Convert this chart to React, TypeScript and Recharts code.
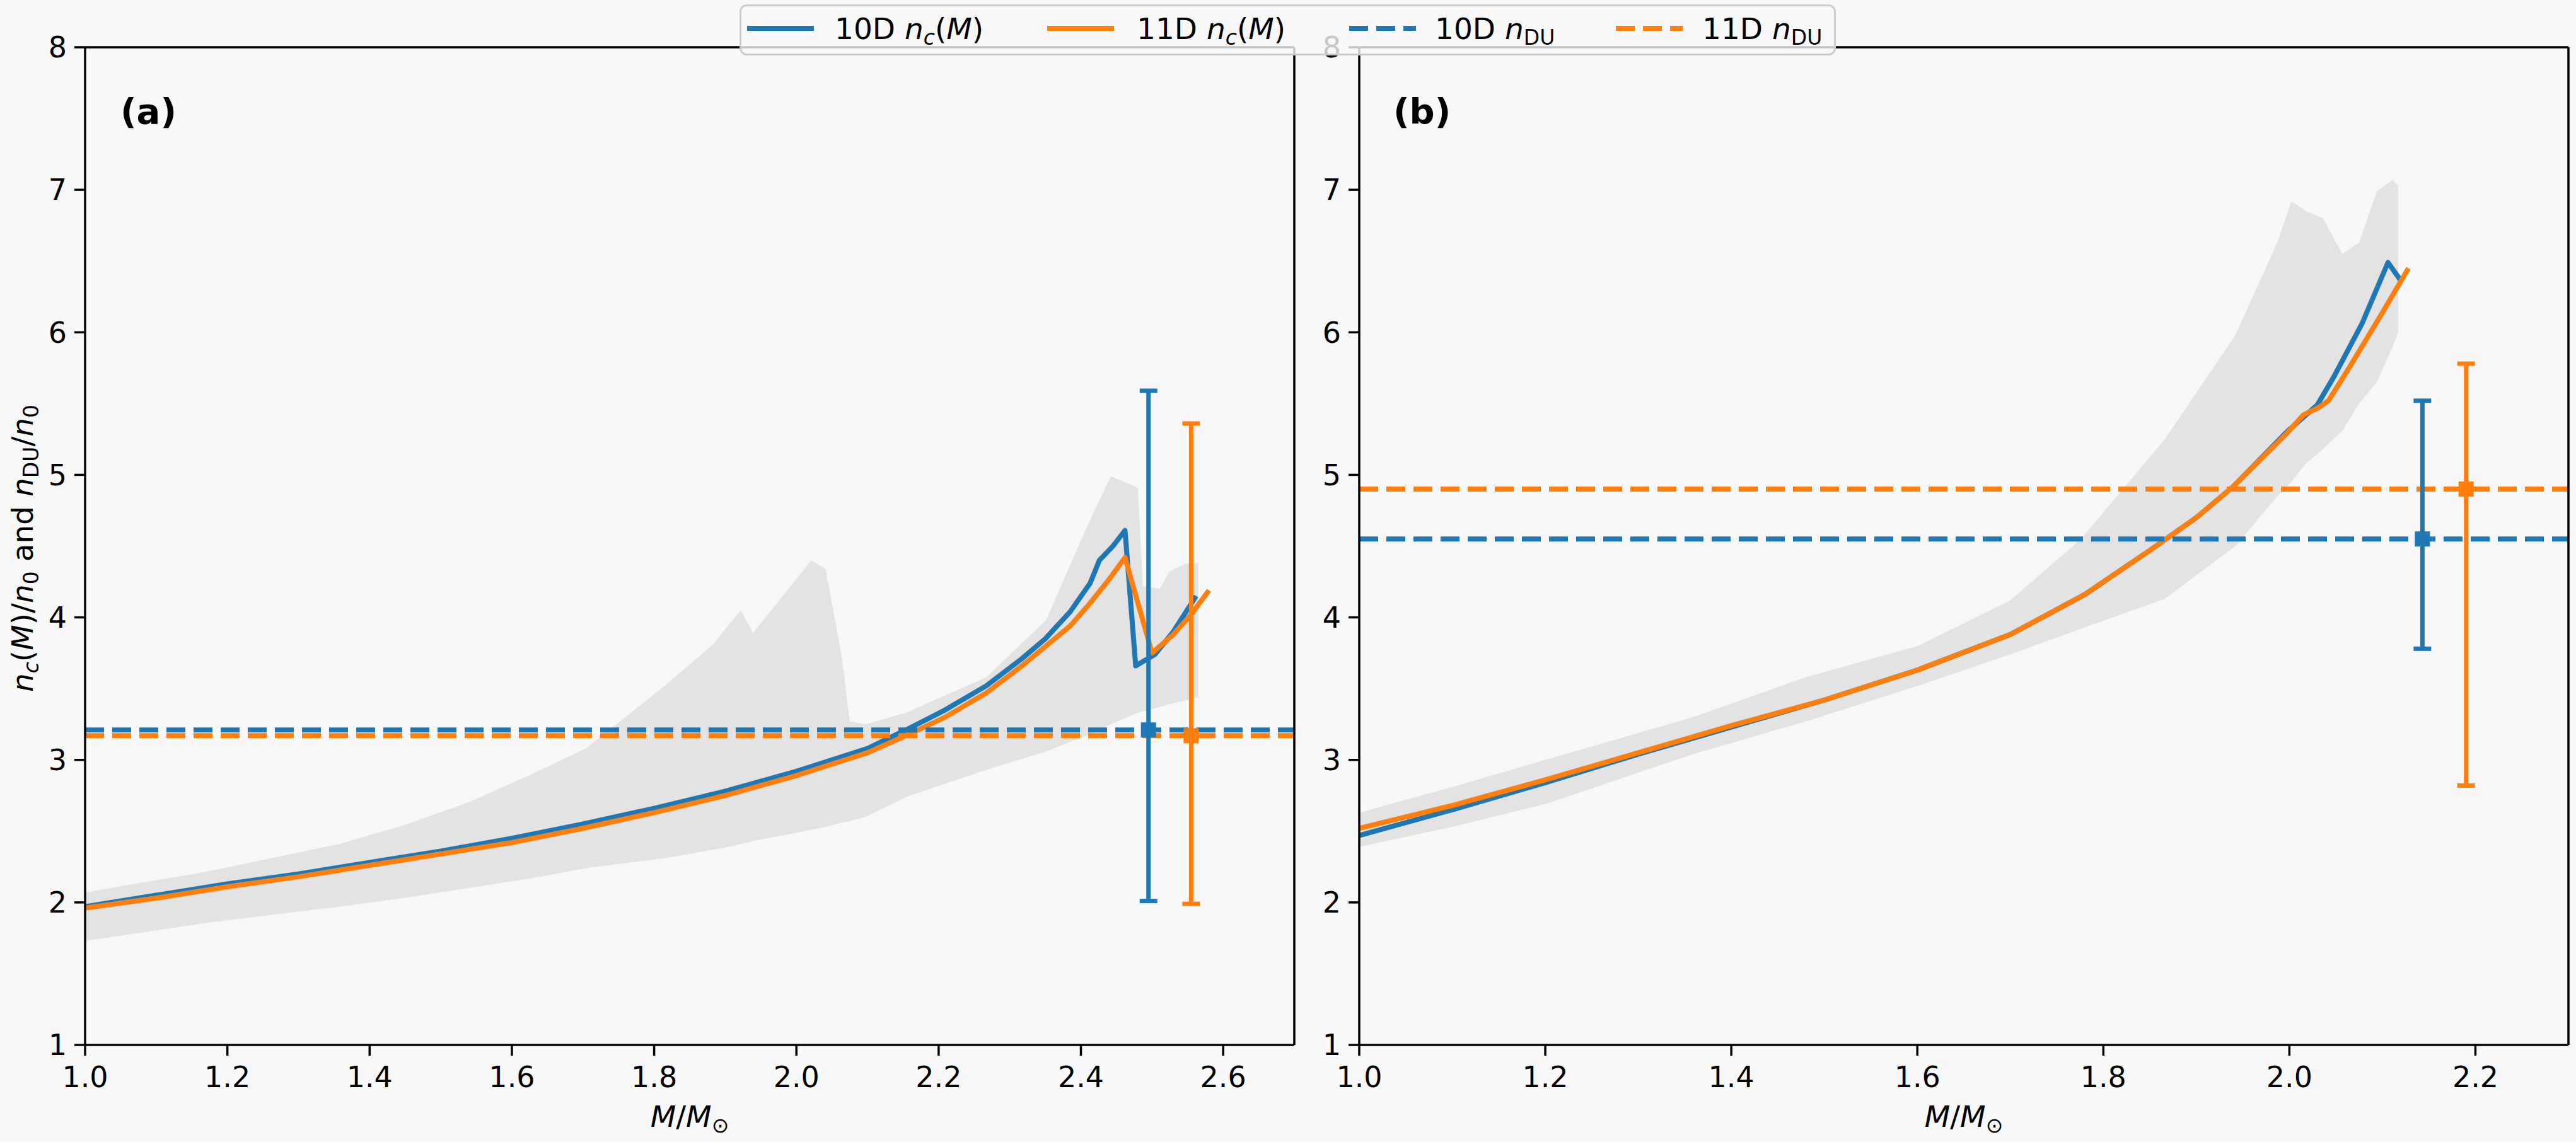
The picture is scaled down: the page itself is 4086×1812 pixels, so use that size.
import React from 'react';
import {
  ComposedChart, Area, Line, Scatter, ErrorBar, XAxis, YAxis, ReferenceLine,
} from 'recharts';

const BLUE = '#1f77b4';
const ORANGE = '#ff7f0e';
const BAND_GREY = '#e3e3e3';
const PAGE_BG = '#f8f8f8';
const FONT = '"DejaVu Sans", Verdana, sans-serif';

// ---- panel (a) ----
const massA10D = [1.0, 1.1, 1.2, 1.3, 1.4, 1.5, 1.6, 1.7, 1.8, 1.9, 2.0, 2.1, 2.154, 2.209, 2.267, 2.317, 2.35, 2.385, 2.413, 2.426, 2.445, 2.462, 2.477, 2.504, 2.53, 2.562];
const ncA10D = [1.97, 2.05, 2.13, 2.2, 2.28, 2.36, 2.45, 2.55, 2.66, 2.78, 2.92, 3.08, 3.21, 3.35, 3.52, 3.71, 3.85, 4.04, 4.24, 4.4, 4.5, 4.61, 3.66, 3.74, 3.9, 4.15];
const massA11D = [1.0, 1.1, 1.2, 1.3, 1.4, 1.5, 1.6, 1.7, 1.8, 1.9, 2.0, 2.1, 2.154, 2.209, 2.267, 2.317, 2.385, 2.413, 2.44, 2.462, 2.5, 2.53, 2.555, 2.58];
const ncA11D = [1.96, 2.03, 2.11, 2.18, 2.26, 2.34, 2.42, 2.52, 2.63, 2.75, 2.89, 3.05, 3.17, 3.3, 3.47, 3.66, 3.94, 4.1, 4.27, 4.42, 3.75, 3.88, 4.02, 4.19];
const bandMassA = [1.0, 1.176, 1.357, 1.447, 1.538, 1.628, 1.704, 1.815, 1.883, 1.905, 1.922, 1.939, 2.021, 2.041, 2.064, 2.075, 2.097, 2.154, 2.267, 2.351, 2.408, 2.442, 2.48, 2.487, 2.511, 2.524, 2.548, 2.565];
const bandLowA = [1.73, 1.86, 1.97, 2.03, 2.1, 2.17, 2.24, 2.31, 2.37, 2.39, 2.41, 2.43, 2.51, 2.53, 2.56, 2.57, 2.6, 2.74, 2.93, 3.06, 3.17, 3.25, 3.33, 3.34, 3.37, 3.39, 3.42, 3.44];
const bandHighA = [2.07, 2.22, 2.41, 2.54, 2.7, 2.9, 3.08, 3.52, 3.81, 3.95, 4.05, 3.89, 4.4, 4.34, 3.72, 3.27, 3.25, 3.33, 3.58, 3.98, 4.63, 4.99, 4.91, 4.22, 4.2, 4.32, 4.38, 4.38];
const nduMassA = [2.495, 2.555];
const nduA = [3.21, 3.17];
const nduLowA = [2.01, 1.99];
const nduHighA = [5.59, 5.36];
const ticksA = [1.0, 1.2, 1.4, 1.6, 1.8, 2.0, 2.2, 2.4, 2.6];

// ---- panel (b) ----
const massB10D = [1.0, 1.1, 1.2, 1.3, 1.4, 1.5, 1.6, 1.7, 1.78, 1.85, 1.9, 1.94, 1.997, 2.03, 2.048, 2.078, 2.106, 2.119];
const ncB10D = [2.47, 2.65, 2.84, 3.04, 3.23, 3.42, 3.63, 3.88, 4.16, 4.47, 4.7, 4.92, 5.3, 5.49, 5.69, 6.06, 6.49, 6.37];
const massB11D = [1.0, 1.1, 1.2, 1.3, 1.4, 1.5, 1.6, 1.7, 1.78, 1.85, 1.9, 1.94, 1.997, 2.015, 2.031, 2.042, 2.066, 2.102, 2.128];
const ncB11D = [2.52, 2.68, 2.86, 3.05, 3.24, 3.42, 3.63, 3.88, 4.16, 4.47, 4.7, 4.92, 5.29, 5.42, 5.47, 5.52, 5.77, 6.16, 6.45];
const bandMassB = [1.0, 1.1, 1.2, 1.359, 1.48, 1.601, 1.7, 1.776, 1.866, 1.942, 1.987, 2.002, 2.018, 2.036, 2.057, 2.075, 2.094, 2.111, 2.117];
const bandLowB = [2.39, 2.53, 2.69, 3.04, 3.27, 3.52, 3.74, 3.92, 4.13, 4.5, 4.85, 4.95, 5.08, 5.18, 5.31, 5.5, 5.65, 5.9, 6.0];
const bandHighB = [2.63, 2.81, 3.0, 3.3, 3.58, 3.8, 4.12, 4.55, 5.25, 5.98, 6.63, 6.92, 6.85, 6.8, 6.55, 6.63, 6.99, 7.07, 7.03];
const nduMassB = [2.143, 2.19];
const nduB = [4.55, 4.9];
const nduLowB = [3.78, 2.82];
const nduHighB = [5.52, 5.78];
const ticksB = [1.0, 1.2, 1.4, 1.6, 1.8, 2.0, 2.2];

const yTicks = [1, 2, 3, 4, 5, 6, 7, 8];
const legendPrefixes = ['10D', '11D', '10D', '11D'];

const curve = (xs: number[], ys: number[]) => xs.map((x, i) => ({ x, y: ys[i] }));
const band = (xs: number[], lo: number[], hi: number[]) => xs.map((x, i) => ({ x, range: [lo[i], hi[i]] }));
const errPoint = (x: number, y: number, lo: number, hi: number) => [{ x, y, err: [y - lo, hi - y] }];

const square = (color: string) => (p: any) => (
  <rect x={p.cx - 12} y={p.cy - 12} width={24} height={24} fill={color} />
);

const axisStroke = { stroke: '#000', strokeWidth: 3.5 };
const tickStyle = { fill: '#000', fontSize: 46, fontFamily: FONT };

const renderYLabel = () => (
  <text
    transform="translate(52, 870) rotate(-90)"
    textAnchor="middle"
    fontSize={47}
    fontFamily={FONT}
    fill="#000"
    style={{ whiteSpace: 'pre' }}
  >
    <tspan fontStyle="italic">n</tspan>
    <tspan fontStyle="italic" fontSize={33} dy={9}>c</tspan>
    <tspan dy={-9}>(</tspan>
    <tspan fontStyle="italic">M</tspan>
    <tspan>)/</tspan>
    <tspan fontStyle="italic">n</tspan>
    <tspan fontSize={33} dy={9}>0</tspan>
    <tspan dy={-9}> and </tspan>
    <tspan fontStyle="italic">n</tspan>
    <tspan fontSize={33} dy={9}>DU</tspan>
    <tspan dy={-9}>/</tspan>
    <tspan fontStyle="italic">n</tspan>
    <tspan fontSize={33} dy={9}>0</tspan>
  </text>
);

const renderXLabel = (cx: number) => () => (
  <text x={cx} y={1788} textAnchor="middle" fontSize={47} fontFamily={FONT} fill="#000">
    <tspan fontStyle="italic">M</tspan>
    <tspan>/</tspan>
    <tspan fontStyle="italic">M</tspan>
    <tspan fontSize={33} dy={9}>⊙</tspan>
  </text>
);

interface PanelProps {
  left: number;
  width: number;
  axisWidth: number;
  rightMargin: number;
  xMax: number;
  xTicks: number[];
  blue: { x: number; y: number }[];
  orange: { x: number; y: number }[];
  bandRows: { x: number; range: number[] }[];
  nduMass: number[];
  ndu: number[];
  nduLow: number[];
  nduHigh: number[];
  withYLabel: boolean;
}

function Panel(p: PanelProps) {
  const plotWidth = p.width - p.axisWidth - p.rightMargin;
  const labelCenter = p.axisWidth + plotWidth / 2;
  return (
    <div style={{ position: 'absolute', left: p.left, top: 0 }}>
      <ComposedChart
        width={p.width}
        height={1812}
        margin={{ top: 75, right: p.rightMargin, bottom: 0, left: 0 }}
      >
        <XAxis
          type="number"
          dataKey="x"
          domain={[1, p.xMax]}
          ticks={p.xTicks}
          allowDataOverflow
          height={154}
          tickFormatter={(v: number) => v.toFixed(1)}
          tick={tickStyle}
          tickSize={17}
          tickMargin={17}
          axisLine={axisStroke}
          tickLine={axisStroke}
          label={renderXLabel(labelCenter)}
        />
        <YAxis
          type="number"
          domain={[1, 8]}
          ticks={yTicks}
          allowDataOverflow
          width={p.axisWidth}
          tick={tickStyle}
          tickSize={17}
          tickMargin={12}
          axisLine={axisStroke}
          tickLine={axisStroke}
          label={p.withYLabel ? renderYLabel : undefined}
        />
        <Area
          data={p.bandRows}
          dataKey="range"
          type="linear"
          stroke="none"
          fill={BAND_GREY}
          fillOpacity={1}
          dot={false}
          activeDot={false}
          isAnimationActive={false}
        />
        <Line
          data={p.blue}
          dataKey="y"
          type="linear"
          stroke={BLUE}
          strokeWidth={8}
          strokeLinejoin="round"
          dot={false}
          activeDot={false}
          isAnimationActive={false}
        />
        <Line
          data={p.orange}
          dataKey="y"
          type="linear"
          stroke={ORANGE}
          strokeWidth={8}
          strokeLinejoin="round"
          dot={false}
          activeDot={false}
          isAnimationActive={false}
        />
        <ReferenceLine y={p.ndu[0]} stroke={BLUE} strokeWidth={8} strokeDasharray="30 13" />
        <ReferenceLine y={p.ndu[1]} stroke={ORANGE} strokeWidth={8} strokeDasharray="30 13" />
        <Scatter
          data={errPoint(p.nduMass[0], p.ndu[0], p.nduLow[0], p.nduHigh[0])}
          dataKey="y"
          shape={square(BLUE)}
          isAnimationActive={false}
        >
          <ErrorBar dataKey="err" direction="y" width={14} strokeWidth={7} stroke={BLUE} isAnimationActive={false} />
        </Scatter>
        <Scatter
          data={errPoint(p.nduMass[1], p.ndu[1], p.nduLow[1], p.nduHigh[1])}
          dataKey="y"
          shape={square(ORANGE)}
          isAnimationActive={false}
        >
          <ErrorBar dataKey="err" direction="y" width={14} strokeWidth={7} stroke={ORANGE} isAnimationActive={false} />
        </Scatter>
        <ReferenceLine y={8} stroke="#000" strokeWidth={3.5} />
        <ReferenceLine x={p.xMax} stroke="#000" strokeWidth={3.5} />
      </ComposedChart>
    </div>
  );
}

function LegendMath({ i }: { i: number }) {
  if (i < 2) {
    return (
      <>
        <tspan fontStyle="italic">n</tspan>
        <tspan fontStyle="italic" fontSize={33} dy={9}>c</tspan>
        <tspan dy={-9}>(</tspan>
        <tspan fontStyle="italic">M</tspan>
        <tspan>)</tspan>
      </>
    );
  }
  return (
    <>
      <tspan fontStyle="italic">n</tspan>
      <tspan fontSize={33} dy={9}>DU</tspan>
    </>
  );
}

function Overlay() {
  const sampleX = [12, 488, 967, 1390];
  const textX = [151, 630, 1103, 1527];
  const colors = [BLUE, ORANGE, BLUE, ORANGE];
  return (
    <svg
      width={4086}
      height={1812}
      style={{ position: 'absolute', left: 0, top: 0, pointerEvents: 'none' }}
      fontFamily={FONT}
    >
      <text x={191} y={196} fontSize={56} fontWeight="bold" fill="#000">(a)</text>
      <text x={2210} y={196} fontSize={56} fontWeight="bold" fill="#000">(b)</text>
      <g transform="translate(1173, 7)">
        <rect x={1.5} y={1.5} width={1736} height={78} rx={10} fill={PAGE_BG} fillOpacity={0.8} stroke="#cccccc" strokeWidth={3} />
        {legendPrefixes.map((prefix, i) => (
          <g key={i}>
            <line
              x1={sampleX[i]}
              x2={sampleX[i] + 106}
              y1={38}
              y2={38}
              stroke={colors[i]}
              strokeWidth={8}
              strokeDasharray={i < 2 ? undefined : '30 13'}
            />
            <text x={textX[i]} y={55} fontSize={47} fill="#000" style={{ whiteSpace: 'pre' }}>
              <tspan>{prefix} </tspan>
              <LegendMath i={i} />
            </text>
          </g>
        ))}
      </g>
    </svg>
  );
}

export default function App() {
  return (
    <div
      style={{
        position: 'absolute',
        left: 0,
        top: 0,
        width: 4086,
        height: 1812,
        background: PAGE_BG,
        fontFamily: FONT,
        overflow: 'hidden',
      }}
    >
      <Panel
        left={0}
        width={2100}
        axisWidth={135}
        rightMargin={47}
        xMax={2.7}
        xTicks={ticksA}
        blue={curve(massA10D, ncA10D)}
        orange={curve(massA11D, ncA11D)}
        bandRows={band(bandMassA, bandLowA, bandHighA)}
        nduMass={nduMassA}
        ndu={nduA}
        nduLow={nduLowA}
        nduHigh={nduHighA}
        withYLabel
      />
      <Panel
        left={2060}
        width={2026}
        axisWidth={96}
        rightMargin={12}
        xMax={2.3}
        xTicks={ticksB}
        blue={curve(massB10D, ncB10D)}
        orange={curve(massB11D, ncB11D)}
        bandRows={band(bandMassB, bandLowB, bandHighB)}
        nduMass={nduMassB}
        ndu={nduB}
        nduLow={nduLowB}
        nduHigh={nduHighB}
        withYLabel={false}
      />
      <Overlay />
    </div>
  );
}
